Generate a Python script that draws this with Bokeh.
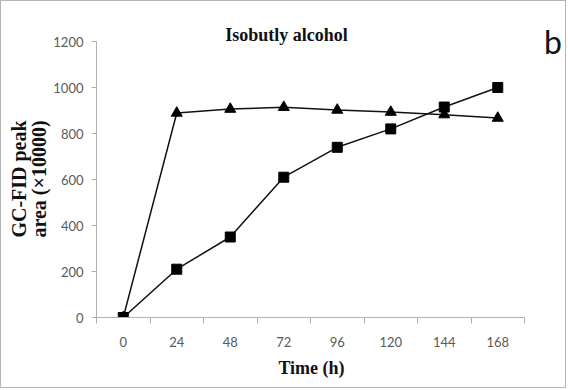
from bokeh.plotting import figure
from bokeh.models import Range1d, FixedTicker, Label, LinearAxis
from bokeh.embed import file_html
from bokeh.resources import INLINE

# Data
time_labels = ["0", "24", "48", "72", "96", "120", "144", "168"]
squares = [0, 210, 350, 610, 740, 820, 915, 1000]
triangles = [0, 889, 906, 914, 902, 893, 882, 867]
y_ticks = [0, 200, 400, 600, 800, 1000, 1200]

xs = list(range(len(time_labels)))
n = len(time_labels)

W, H = 566, 388
BL, BR, BT, BB = 95, 5, 5, 72
frame_w = W - BL - BR
frame_h = H - BT - BB
cat_px = 53.5           # pixel width of one category
y_px = 276.0 / 1200     # pixels per unit on y

x_end = -0.5 + frame_w / cat_px
y_end = frame_h / y_px

p = figure(width=W, height=H, output_backend="svg", toolbar_location=None,
           x_range=Range1d(-0.5, x_end), y_range=Range1d(0, y_end),
           min_border_left=BL, min_border_right=BR, min_border_top=BT, min_border_bottom=BB)
p.outline_line_color = None
p.grid.grid_line_color = None
p.background_fill_color = "white"
p.border_fill_color = "white"
p.styles = {"border": "1px solid #b4b4b4", "box-sizing": "border-box"}

axis_col = "#b0b0b0"
lab_col = "#595959"

# trailing spaces keep the axis titles centred on the drawn axes
xpad = "\u2003" * 2
ypad = "\u2003\u2002\u2009"

# x axis: labels at category centres, ticks at boundaries
p.xaxis.bounds = (-0.5, n - 0.5)
p.xaxis.ticker = FixedTicker(ticks=xs, minor_ticks=[i - 0.5 for i in range(n + 1)])
p.xaxis.major_label_overrides = {i: t for i, t in enumerate(time_labels)}
p.xaxis.major_tick_line_color = None
p.xaxis.major_tick_out = 0
p.xaxis.major_tick_in = 0
p.xaxis.minor_tick_line_color = axis_col
p.xaxis.minor_tick_out = 6
p.xaxis.minor_tick_in = 0
p.xaxis.axis_line_color = axis_col
p.xaxis.major_label_text_font = "Lato"
p.xaxis.major_label_text_font_size = "13px"
p.xaxis.major_label_text_color = lab_col
p.xaxis.major_label_standoff = 13
p.xaxis.axis_label = "Time (h)" + xpad
p.xaxis.axis_label_text_font = "Liberation Serif"
p.xaxis.axis_label_text_font_style = "bold"
p.xaxis.axis_label_text_font_size = "18px"
p.xaxis.axis_label_text_color = "#111111"
p.xaxis.axis_label_standoff = 8

# y axis (second line of the axis title)
yax = p.yaxis[0]
yax.bounds = (0, 1200)
yax.ticker = FixedTicker(ticks=y_ticks, minor_ticks=[])
yax.major_tick_line_color = axis_col
yax.major_tick_out = 5
yax.major_tick_in = 0
yax.minor_tick_line_color = None
yax.axis_line_color = axis_col
yax.major_label_text_font = "Lato"
yax.major_label_text_font_size = "13px"
yax.major_label_text_color = lab_col
yax.major_label_standoff = 8
yax.axis_label = "area (\u00d710000)" + ypad
yax.axis_label_text_font = "Liberation Serif"
yax.axis_label_text_font_style = "bold"
yax.axis_label_text_font_size = "20px"
yax.axis_label_text_color = "#111111"
yax.axis_label_standoff = 0

# outer label-only axis (first line of the axis title)
yax2 = LinearAxis(ticker=FixedTicker(ticks=[], minor_ticks=[]), axis_line_color=None,
                  major_tick_line_color=None, minor_tick_line_color=None,
                  major_tick_out=0, major_tick_in=0, minor_tick_out=0, minor_tick_in=0,
                  major_label_text_font_size="0px",
                  axis_label="GC-FID peak" + ypad, axis_label_text_font="Liberation Serif",
                  axis_label_text_font_style="bold", axis_label_text_font_size="20px",
                  axis_label_text_color="#111111", axis_label_standoff=-4)
p.add_layout(yax2, "left")

# series
p.line(xs, triangles, line_color="#111111", line_width=1.5)
p.scatter(xs, triangles, marker="triangle", size=11, fill_color="black", line_color="black")
p.line(xs, squares, line_color="#111111", line_width=1.5)
p.scatter(xs, squares, marker="square", size=10, fill_color="black", line_color="black")

# title and panel letter
p.add_layout(Label(x=3.05, y=1228, text="Isobutly alcohol", text_font="Liberation Serif",
                   text_font_style="bold", text_font_size="18px", text_color="#111111",
                   text_align="center", text_baseline="middle"))
p.add_layout(Label(x=8.03, y=1198, text="b", text_font="Lato",
                   text_font_size="32px", text_color="#111111",
                   text_align="center", text_baseline="middle"))

open("out.html", "w").write(file_html(p, INLINE))
